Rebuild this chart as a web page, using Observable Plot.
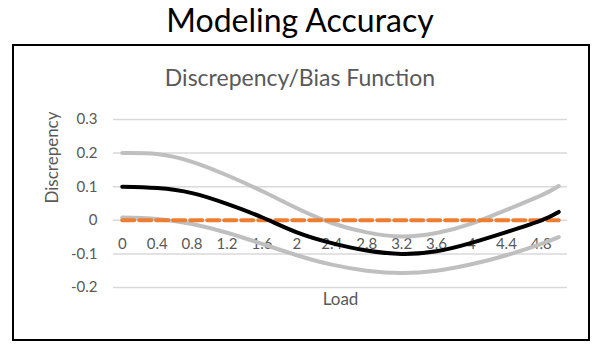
<!DOCTYPE html>
<html>
<head>
<meta charset="utf-8">
<script src="https://cdn.jsdelivr.net/npm/d3@7"></script>
<script src="https://cdn.jsdelivr.net/npm/@observablehq/plot@0.6"></script>
<style>
  html, body { margin: 0; padding: 0; background: #fff; }
  #page { position: relative; width: 600px; height: 356px; overflow: hidden; font-family: Lato, "Open Sans", sans-serif; }
  #title { position: absolute; left: 0; width: 600px; top: 0px; text-align: center; font-size: 32px; color: #000; line-height: normal; }
  #box { position: absolute; left: 12px; top: 44px; width: 578px; height: 297px; box-sizing: border-box; border: 2px solid #000; }
  #subtitle { position: absolute; left: 0; width: 600px; top: 62px; text-align: center; font-size: 23px; color: #595959; line-height: 30px; }
  #chart { position: absolute; left: 0; top: 0; }
</style>
</head>
<body>
<div id="page">
  <div id="box"></div>
  <div id="chart"></div>
  <div id="title">Modeling Accuracy</div>
  <div id="subtitle">Discrepency/Bias Function</div>
</div>
<script>
const loads = [0, 0.4, 0.8, 1.2, 1.6, 2.0, 2.4, 2.8, 3.2, 3.6, 4.0, 4.4, 4.8, 5.0];
const discrepancy = [0.1, 0.096, 0.081, 0.049, 0.009, -0.036, -0.068, -0.09, -0.1, -0.092, -0.067, -0.035, 0.0, 0.025];
const upperBound = [0.2, 0.197, 0.174, 0.134, 0.087, 0.036, -0.008, -0.036, -0.048, -0.038, -0.01, 0.031, 0.074, 0.102];
const lowerBound = [0.008, 0.004, -0.011, -0.037, -0.07, -0.104, -0.132, -0.15, -0.157, -0.15, -0.131, -0.104, -0.07, -0.05];
const bias = [0, 0, 0, 0, 0, 0, 0, 0, 0, 0, 0, 0, 0, 0];
const xTickLabels = [0, 0.4, 0.8, 1.2, 1.6, 2, 2.4, 2.8, 3.2, 3.6, 4, 4.4, 4.8];
const yTickLabels = [0.3, 0.2, 0.1, 0, -0.1, -0.2];

const series = (vals) => loads.map((x, i) => ({x, y: vals[i]}));

const chart = Plot.plot({
  width: 600,
  height: 356,
  marginLeft: 113,
  marginRight: 33,
  marginTop: 119,
  marginBottom: 69,
  style: {background: "transparent", fontFamily: "Lato, 'Open Sans', sans-serif", color: "#595959"},
  x: {domain: [-0.1, 5.1], axis: null},
  y: {domain: [-0.2, 0.3], axis: null},
  marks: [
    Plot.ruleY(yTickLabels, {stroke: "#d9d9d9", strokeWidth: 1.5}),
    Plot.axisY(yTickLabels, {tickSize: 0, tickPadding: 16, fontSize: 15, fill: "#595959", label: null, tickFormat: d => String(d)}),
    Plot.text(["Discrepency"], {frameAnchor: "left", rotate: -90, dx: -61, fontSize: 17, fill: "#595959"}),
    Plot.text(xTickLabels, {x: d => d, y: 0, dy: 24, text: d => String(d), fontSize: 15, fill: "#595959"}),
    Plot.text(["Load"], {frameAnchor: "bottom", dy: 17, fontSize: 17, fill: "#595959"}),
    Plot.line(series(upperBound), {x: "x", y: "y", curve: "natural", stroke: "#bfbfbf", strokeWidth: 4}),
    Plot.line(series(lowerBound), {x: "x", y: "y", curve: "natural", stroke: "#bfbfbf", strokeWidth: 4}),
    Plot.line(series(bias), {x: "x", y: "y", stroke: "#ed7d31", strokeWidth: 4, strokeDasharray: "12,5"}),
    Plot.line(series(discrepancy), {x: "x", y: "y", curve: "natural", stroke: "#000", strokeWidth: 4})
  ]
});
document.getElementById("chart").appendChild(chart);
</script>
</body>
</html>
